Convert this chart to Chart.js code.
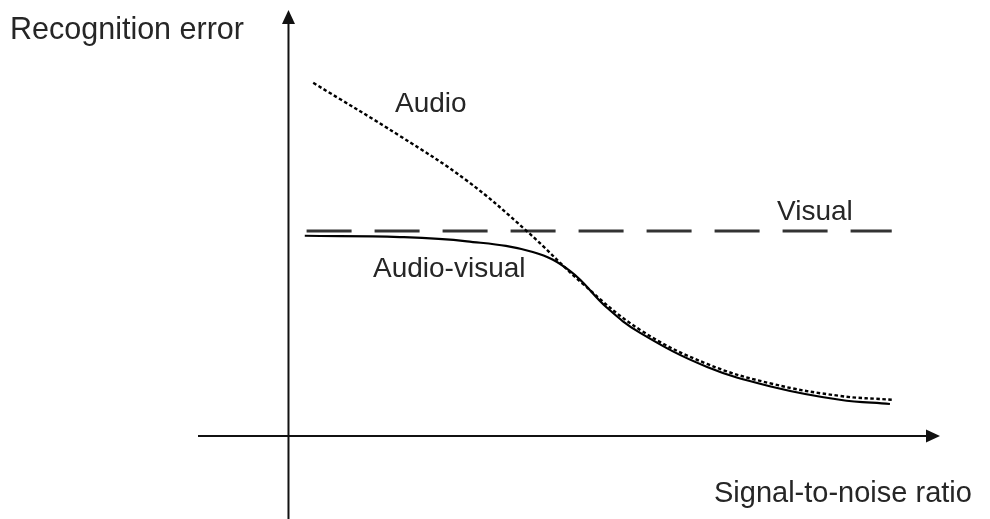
<!DOCTYPE html>
<html>
<head>
<meta charset="utf-8">
<script src="https://cdn.jsdelivr.net/npm/chart.js@4.4.1/dist/chart.umd.min.js"></script>
<style>
  html, body { margin: 0; padding: 0; background: #ffffff; }
  #wrap { width: 990px; height: 519px; position: relative; }
</style>
</head>
<body>
<div id="wrap"><canvas id="c"></canvas></div>
<script>
// ---- data (arbitrary units: signal-to-noise ratio vs recognition error) ----
const audioSnr   = [0.41, 1.85, 2.96, 3.95, 4.88, 5.83, 6.94, 8.03, 9.14, 10.0];
const audioErr   = [8.29, 7.04, 5.99, 4.81, 3.57, 2.49, 1.69, 1.22, 0.94, 0.85];

const visualSnr  = [0.3, 10.0];
const visualErr  = [4.81, 4.81];

const avSnr      = [0.27, 1.85, 2.96, 4.05, 4.67, 5.28, 5.83, 6.94, 8.03, 9.14, 9.97];
const avErr      = [4.70, 4.67, 4.57, 4.32, 3.87, 3.01, 2.42, 1.62, 1.15, 0.85, 0.75];

const seriesNames = ['Audio', 'Visual', 'Audio-visual'];
const xTitle = 'Signal-to-noise ratio';
const yTitle = 'Recognition error';

const toPts = (xs, ys) => xs.map((x, i) => ({ x: x, y: ys[i] }));

const FAMILY = '"Liberation Sans", Arial, sans-serif';
const TEXT_COLOR = '#262626';

const axesAndText = {
  id: 'axesAndText',
  beforeDatasetsDraw(chart) {
    const { ctx, chartArea, scales } = chart;
    const x0 = scales.x.getPixelForValue(0);
    const y0 = scales.y.getPixelForValue(0);
    ctx.save();
    ctx.strokeStyle = '#111111';
    ctx.fillStyle = '#111111';
    ctx.lineWidth = 2;
    // y axis
    ctx.beginPath();
    ctx.moveTo(x0, chartArea.bottom);
    ctx.lineTo(x0, chartArea.top + 10);
    ctx.stroke();
    ctx.beginPath();
    ctx.moveTo(x0, chartArea.top);
    ctx.lineTo(x0 - 6.5, chartArea.top + 14);
    ctx.lineTo(x0 + 6.5, chartArea.top + 14);
    ctx.closePath();
    ctx.fill();
    // x axis
    ctx.beginPath();
    ctx.moveTo(chartArea.left, y0);
    ctx.lineTo(chartArea.right - 10, y0);
    ctx.stroke();
    ctx.beginPath();
    ctx.moveTo(chartArea.right, y0);
    ctx.lineTo(chartArea.right - 14, y0 - 6.5);
    ctx.lineTo(chartArea.right - 14, y0 + 6.5);
    ctx.closePath();
    ctx.fill();
    ctx.restore();
  },
  afterDraw(chart) {
    const { ctx } = chart;
    ctx.save();
    ctx.fillStyle = TEXT_COLOR;
    ctx.textBaseline = 'alphabetic';
    ctx.textAlign = 'left';
    const labels = [
      [yTitle, 10, 39, 30.5],
      [seriesNames[0], 395, 112, 28],
      [seriesNames[1], 777, 220, 28],
      [seriesNames[2], 373, 277, 28],
      [xTitle, 714, 502, 29]
    ];
    labels.forEach(([t, x, y, s]) => {
      ctx.font = s + 'px ' + FAMILY;
      ctx.fillText(t, x, y);
    });
    ctx.restore();
  }
};

new Chart(document.getElementById('c'), {
  type: 'line',
  data: {
    datasets: [
      {
        label: seriesNames[0],
        data: toPts(audioSnr, audioErr),
        borderColor: '#000000',
        borderWidth: 2.4,
        borderDash: [3.5, 2.5],
        pointRadius: 0,
        tension: 0.4,
        fill: false
      },
      {
        label: seriesNames[1],
        data: toPts(visualSnr, visualErr),
        borderColor: '#333333',
        borderWidth: 3,
        borderDash: [45, 23],
        pointRadius: 0,
        fill: false
      },
      {
        label: seriesNames[2],
        data: toPts(avSnr, avErr),
        borderColor: '#000000',
        borderWidth: 2.2,
        pointRadius: 0,
        tension: 0.4,
        fill: false
      }
    ]
  },
  options: {
    responsive: true,
    maintainAspectRatio: false,
    animation: false,
    events: [],
    layout: { padding: { left: 198, right: 50, top: 10, bottom: 0 } },
    plugins: { legend: { display: false }, tooltip: { enabled: false } },
    scales: {
      x: { type: 'linear', min: -1.5, max: 10.8, display: false },
      y: { type: 'linear', min: -1.95, max: 10, display: false }
    }
  },
  plugins: [axesAndText]
});
</script>
</body>
</html>
